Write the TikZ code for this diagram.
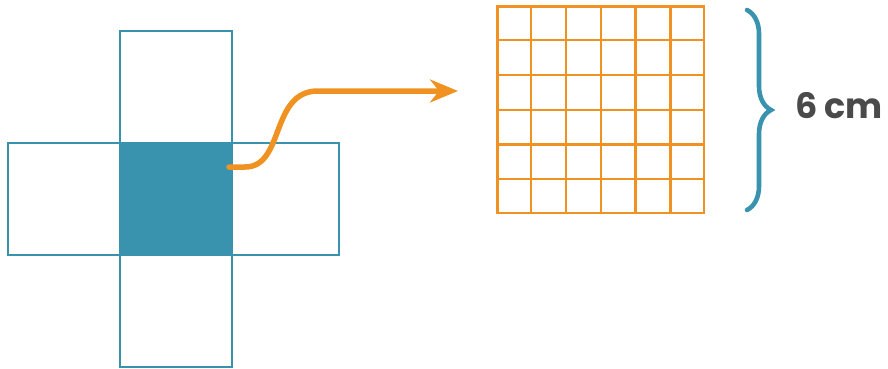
\documentclass[tikz,border=0pt]{standalone}
\usepackage{fontspec}
\setmainfont{Poppins}
\usetikzlibrary{arrows.meta,calc,decorations.pathreplacing}
\definecolor{netcolor}{rgb}{0.227, 0.576, 0.682}
\definecolor{gridcolor}{rgb}{0.941, 0.573, 0.133}
\definecolor{labelcolor}{rgb}{0.290, 0.290, 0.290}
\tikzset{
  facebox/.style={draw=netcolor, line width=2.8pt, minimum width=112pt, minimum height=112pt, inner sep=0pt},
  basebox/.style={facebox, fill=netcolor}
}

\begin{document}
\begin{tikzpicture}[x=1pt,y=-1pt]
\useasboundingbox (0,0) rectangle (888,369);
% net of the cube
\node[basebox] (base) at (176,199) {};
\node[facebox] (top) at (176,87) {};
\node[facebox] (bottom) at (176,311) {};
\node[facebox] (left) at (64,199) {};
\node[facebox, minimum width=107pt] (right) at (285.5,199) {};
\node[basebox] at (base) {};
% square of 6 by 6
\node[draw=gridcolor, line width=2.4pt, minimum width=206.5pt, minimum height=206pt, inner sep=0pt] (grid) at (600.8,109.7) {};
\foreach \i in {1,...,5} {
  \draw[gridcolor, line width=2.4pt] ($(grid.north west)!\i/6!(grid.north east)$) -- ($(grid.south west)!\i/6!(grid.south east)$);
  \draw[gridcolor, line width=2.4pt] ($(grid.north west)!\i/6!(grid.south west)$) -- ($(grid.north east)!\i/6!(grid.south east)$);
}
\coordinate (start) at (229,167);
\coordinate (tip) at (458,91);
\draw[gridcolor, line width=5.5pt, line cap=round, -{Stealth[length=28pt,width=23pt,inset=9pt]}]
  (start) -- (245,167) .. controls (285,167) and (270,91) .. (318,91) -- (tip);
\draw[netcolor, line width=4.6pt, line cap=round, decorate, decoration={brace, amplitude=24pt}]
  (747,10) -- (747,210);
\node[text=labelcolor, font=\bfseries\fontsize{35}{40}\selectfont] (size) at (839,106) {6 cm};
\end{tikzpicture}
\end{document}
